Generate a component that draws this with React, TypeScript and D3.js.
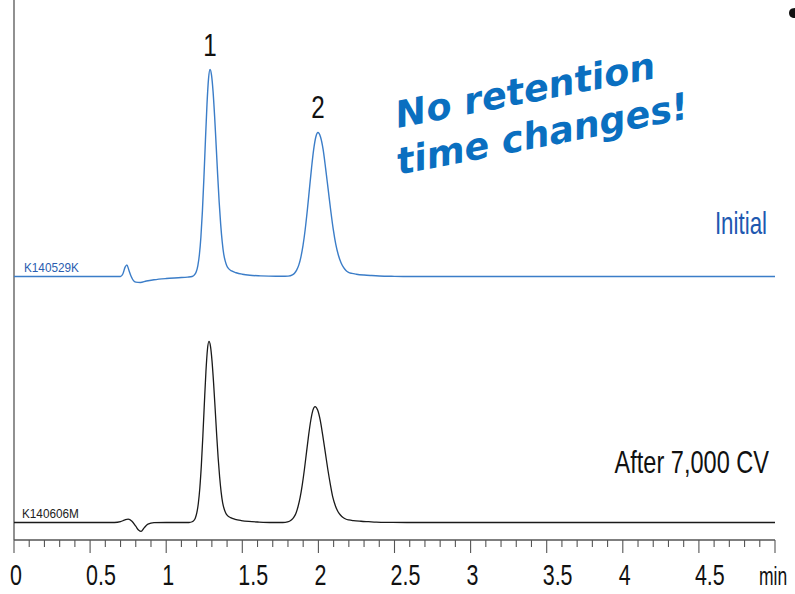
import React from "react";
import * as d3 from "d3";

// Chromatogram traces: [time (min), signal (arbitrary units, baseline = 0)]
const initialTrace: [number, number][] = [
  [0, 0], [0.7, 0], [0.715, 1.2], [0.73, 4.5], [0.742, 5.6], [0.755, 3.0], [0.77, 0],
  [0.785, -2.0], [0.8, -2.7], [0.83, -2.9], [0.87, -2.2], [0.92, -1.6], [1.0, -1.0],
  [1.08, -0.6], [1.14, -0.3], [1.17, 0], [1.188, 1.0], [1.198, 2.4], [1.208, 5.3],
  [1.218, 10.5], [1.228, 19.1], [1.238, 31.7], [1.248, 48.0], [1.258, 66.2], [1.268, 83.2],
  [1.278, 95.5], [1.288, 100], [1.298, 97.2], [1.308, 89.3], [1.318, 77.5], [1.328, 63.6],
  [1.338, 49.2], [1.348, 36.0], [1.358, 25.2], [1.368, 16.8], [1.378, 10.8], [1.388, 7.4],
  [1.398, 5.2], [1.41, 3.8], [1.43, 2.7], [1.46, 1.8], [1.5, 1.1], [1.55, 0.6],
  [1.62, 0.3], [1.72, 0.1], [1.76, 0.1], [1.801, 0.2], [1.829, 0.8], [1.843, 1.6],
  [1.857, 3.1], [1.871, 5.5], [1.885, 9.4], [1.899, 15.0], [1.913, 22.6], [1.927, 31.9],
  [1.941, 42.2], [1.955, 52.5], [1.969, 61.4], [1.983, 67.4], [1.997, 69.6], [2.014, 67.4],
  [2.031, 61.4], [2.047, 52.5], [2.064, 42.2], [2.081, 31.9], [2.098, 22.6], [2.114, 15.6],
  [2.131, 10.4], [2.148, 6.8], [2.165, 4.4], [2.181, 2.9], [2.198, 2.0], [2.22, 1.5],
  [2.25, 1.1], [2.3, 0.7], [2.35, 0.45], [2.4, 0.25], [2.5, 0.08], [2.6, 0], [5, 0],
];

const afterTrace: [number, number][] = [
  [0, 0], [0.66, 0], [0.7, 0.4], [0.73, 1.3], [0.75, 1.6], [0.775, 0.6], [0.8, -1.8],
  [0.82, -3.8], [0.835, -4.3], [0.855, -2.6], [0.88, -0.8], [0.92, -0.1], [1.0, 0],
  [1.15, 0], [1.171, 0.35], [1.181, 0.9], [1.191, 2.1], [1.201, 4.6], [1.211, 9.2],
  [1.221, 16.7], [1.231, 27.7], [1.241, 42.0], [1.251, 57.9], [1.261, 72.8], [1.271, 83.6],
  [1.281, 87.5], [1.291, 85.1], [1.301, 78.1], [1.311, 67.8], [1.321, 55.7], [1.331, 43.1],
  [1.341, 31.5], [1.351, 22.1], [1.361, 14.7], [1.371, 9.5], [1.381, 6.5], [1.391, 4.6],
  [1.403, 3.3], [1.423, 2.35], [1.453, 1.55], [1.493, 0.95], [1.543, 0.5], [1.61, 0.2],
  [1.7, 0], [1.75, 0], [1.782, 0.1], [1.81, 0.6], [1.824, 1.3], [1.838, 2.5], [1.852, 4.4],
  [1.866, 7.6], [1.88, 12.1], [1.894, 18.2], [1.908, 25.6], [1.922, 34.0], [1.936, 42.3],
  [1.95, 49.4], [1.964, 54.3], [1.978, 56], [1.995, 54.3], [2.012, 49.4], [2.028, 42.3],
  [2.045, 34.0], [2.062, 25.6], [2.079, 18.2], [2.095, 12.1], [2.112, 8.0], [2.129, 5.2],
  [2.146, 3.5], [2.162, 2.4], [2.179, 1.7], [2.2, 1.25], [2.23, 0.9], [2.28, 0.6],
  [2.33, 0.4], [2.38, 0.2], [2.48, 0.07], [2.58, 0], [5, 0],
];

const tickLabels = ["0", "0.5", "1", "1.5", "2", "2.5", "3", "3.5", "4", "4.5"];
const tickValues = [0, 0.5, 1, 1.5, 2, 2.5, 3, 3.5, 4, 4.5];
const peakLabels = ["1", "2"];
const peakTimes = [1.288, 1.997];
const peakHeights = [100, 69.6];
const traceNames = ["K140529K", "K140606M"];
const traceTitles = ["Initial", "After 7,000 CV"];
const unitLabel = "min";
const calloutLines = ["No retention", "time changes!"];

const W = 795;
const H = 594;

export default function App() {
  const x = d3.scaleLinear().domain([0, 5]).range([14, 775]);
  const y = d3.scaleLinear().domain([0, 100]).range([0, -207]);
  const blueBase = 276.5;
  const blackBase = 522.5;
  const axisY = 540;

  const line = d3
    .line<[number, number]>()
    .x((d) => x(d[0]))
    .y((d) => y(d[1]))
    .curve(d3.curveMonotoneX);

  const minor = d3.range(0, 51).map((i) => i / 10);
  const font = "'Liberation Sans', Arial, sans-serif";

  return (
    <svg
      width={W}
      height={H}
      style={{ position: "absolute", left: 0, top: 0, background: "#fff" }}
    >
      <rect x={0} y={0} width={W} height={H} fill="#fff" />
      {/* left axis */}
      <line x1={14} x2={14} y1={0} y2={axisY} stroke="#555" strokeWidth={1.3} />
      {/* bottom axis */}
      <line x1={14} x2={775} y1={axisY} y2={axisY} stroke="#555" strokeWidth={1.3} />
      {minor.map((t, i) => {
        const major = i % 5 === 0;
        return (
          <line
            key={"t" + i}
            x1={x(t)}
            x2={x(t)}
            y1={axisY}
            y2={axisY + (major ? 13 : 7)}
            stroke="#555"
            strokeWidth={1.1}
          />
        );
      })}
      {tickValues.map((t, i) => (
        <text
          key={"l" + i}
          transform={`translate(${x(t) - 4},585) scale(0.74,1)`}
          fontFamily={font}
          fontSize={29}
          fill="#111"
        >
          {tickLabels[i]}
        </text>
      ))}
      <text
        transform="translate(759,585) scale(0.7,1)"
        fontFamily={font}
        fontSize={25}
        fill="#111"
      >
        {unitLabel}
      </text>

      {/* traces */}
      <g transform={`translate(0,${blueBase})`}>
        <path d={line(initialTrace) || ""} fill="none" stroke="#3b7dc8" strokeWidth={1.4} />
      </g>
      <g transform={`translate(0,${blackBase})`}>
        <path d={line(afterTrace) || ""} fill="none" stroke="#1a1a1a" strokeWidth={1.3} />
      </g>

      {/* trace ids */}
      <text transform="translate(24,272) scale(0.87,1)" fontFamily={font} fontSize={13.5} fill="#2a5db0">
        {traceNames[0]}
      </text>
      <text transform="translate(22,518) scale(0.87,1)" fontFamily={font} fontSize={13.5} fill="#222">
        {traceNames[1]}
      </text>

      {/* trace titles */}
      <text transform="translate(767,234) scale(0.72,1)" textAnchor="end" fontFamily={font} fontSize={31} fill="#2058b0">
        {traceTitles[0]}
      </text>
      <text transform="translate(769,473) scale(0.76,1)" textAnchor="end" fontFamily={font} fontSize={31} fill="#111">
        {traceTitles[1]}
      </text>

      {/* peak numbers */}
      {peakLabels.map((p, i) => (
        <text
          key={"p" + i}
          transform={`translate(${x(peakTimes[i])},${blueBase + y(peakHeights[i]) - 14}) scale(0.78,1)`}
          textAnchor="middle"
          fontFamily={font}
          fontSize={31}
          fill="#111"
        >
          {p}
        </text>
      ))}

      {/* callout */}
      <g transform="translate(398,128) rotate(-11)">
        <text
          x={0}
          y={0}
          fontFamily="'DejaVu Sans', sans-serif"
          fontWeight="bold"
          fontStyle="italic"
          fontSize={37}
          fill="#0a6fc0"
        >
          {calloutLines[0]}
        </text>
        <text
          x={-8}
          y={46}
          fontFamily="'DejaVu Sans', sans-serif"
          fontWeight="bold"
          fontStyle="italic"
          fontSize={37}
          fill="#0a6fc0"
        >
          {calloutLines[1]}
        </text>
      </g>
      {/* clipped mark at the top-right corner */}
      <path d="M795,8 C790,8 789,11 789,13 C789,16 791,18 795,18 Z" fill="#111" />
    </svg>
  );
}
